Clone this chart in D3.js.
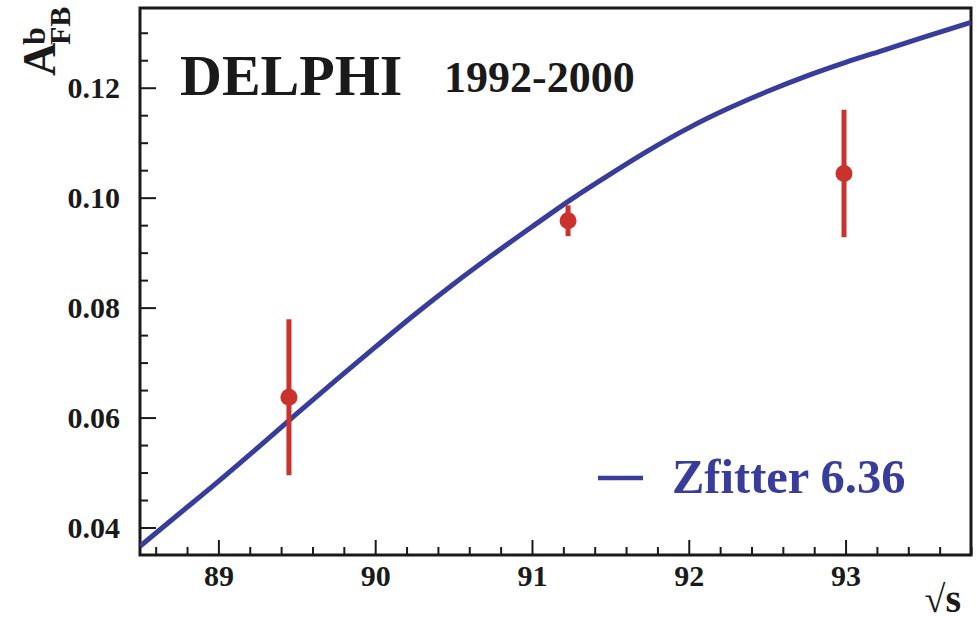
<!DOCTYPE html>
<html>
<head>
<meta charset="utf-8">
<script src="https://cdn.jsdelivr.net/npm/d3@7.9.0/dist/d3.min.js"></script>
<style>
  body { margin: 0; background: #fff; }
  svg { display: block; }
  svg text { font-family: "Liberation Serif", "Times New Roman", Times, serif; }
</style>
</head>
<body>
<svg id="chart" width="977" height="621"></svg>
<script>
// measured points: sqrt(s) in GeV, A_FB^b and its error
const energies = [89.45, 91.23, 92.99];
const asym = [0.0637, 0.0958, 0.1044];
const errors = [0.0142, 0.0028, 0.0116];

// Zfitter 6.36 prediction
const curveE = [88.5, 88.75, 89.0, 89.25, 89.5, 89.75, 90.0, 90.25, 90.5, 90.75, 91.0,
  91.25, 91.5, 91.75, 92.0, 92.25, 92.5, 92.75, 93.0, 93.25, 93.5, 93.8];
const curveA = [0.0366, 0.0425, 0.0484, 0.0545, 0.0607, 0.0668, 0.0728, 0.0787, 0.0843, 0.0896, 0.0947,
  0.0997, 0.1043, 0.1087, 0.1127, 0.1162, 0.1193, 0.1221, 0.1246, 0.1269, 0.1292, 0.1319];

const xTicks = [89, 90, 91, 92, 93];
const yTicks = [0.04, 0.06, 0.08, 0.10, 0.12];

const margin = { top: 8, right: 6, bottom: 66, left: 140 };
const width = 977, height = 621;
const ink = "#1a1a1a";

const svg = d3.select("#chart");

const x = d3.scaleLinear().domain([88.5, 93.8]).range([margin.left, width - margin.right]);
const y = d3.scaleLinear().domain([0.035, 0.1345]).range([height - margin.bottom, margin.top]);

const xMinor = d3.range(88.6, 93.8, 0.2).filter(v => Math.abs(v - Math.round(v)) > 0.01);
const yMinor = d3.range(0.04, 0.134, 0.005).filter(v => Math.abs(v * 50 - Math.round(v * 50)) > 0.01);

// frame
svg.append("rect")
  .attr("x", margin.left)
  .attr("y", margin.top)
  .attr("width", width - margin.right - margin.left)
  .attr("height", height - margin.bottom - margin.top)
  .attr("fill", "none")
  .attr("stroke", ink)
  .attr("stroke-width", 3);

// x axis: ticks point inward
const xAxis = svg.append("g")
  .attr("transform", `translate(0,${height - margin.bottom})`)
  .call(d3.axisBottom(x).tickValues(xTicks).tickFormat(d3.format("d")).tickSizeInner(-15).tickSizeOuter(0).tickPadding(22));
xAxis.attr("font-family", null);
xAxis.select(".domain").remove();
xAxis.selectAll(".tick line").attr("stroke", ink).attr("stroke-width", 2);
xAxis.selectAll(".tick text")
  .attr("font-size", 30).attr("font-weight", "bold").attr("fill", ink)
  .attr("dy", "0.3em");

const xAxisMinor = svg.append("g")
  .attr("transform", `translate(0,${height - margin.bottom})`)
  .call(d3.axisBottom(x).tickValues(xMinor).tickFormat("").tickSizeInner(-8).tickSizeOuter(0));
xAxisMinor.select(".domain").remove();
xAxisMinor.selectAll(".tick line").attr("stroke", ink).attr("stroke-width", 2);

// y axis
const yAxis = svg.append("g")
  .attr("transform", `translate(${margin.left},0)`)
  .call(d3.axisLeft(y).tickValues(yTicks).tickFormat(d3.format(".2f")).tickSizeInner(-16).tickSizeOuter(0).tickPadding(20));
yAxis.attr("font-family", null);
yAxis.select(".domain").remove();
yAxis.selectAll(".tick line").attr("stroke", ink).attr("stroke-width", 2);
yAxis.selectAll(".tick text")
  .attr("font-size", 30).attr("font-weight", "bold").attr("fill", ink);

const yAxisMinor = svg.append("g")
  .attr("transform", `translate(${margin.left},0)`)
  .call(d3.axisLeft(y).tickValues(yMinor).tickFormat("").tickSizeInner(-8).tickSizeOuter(0));
yAxisMinor.select(".domain").remove();
yAxisMinor.selectAll(".tick line").attr("stroke", ink).attr("stroke-width", 2);

// clip for the curve
svg.append("clipPath").attr("id", "plot-clip")
  .append("rect")
  .attr("x", margin.left).attr("y", margin.top)
  .attr("width", width - margin.right - margin.left)
  .attr("height", height - margin.bottom - margin.top);

const curveData = curveE.map((e, i) => ({ e: e, a: curveA[i] }));
const line = d3.line().x(d => x(d.e)).y(d => y(d.a)).curve(d3.curveMonotoneX);

svg.append("path")
  .datum(curveData)
  .attr("clip-path", "url(#plot-clip)")
  .attr("d", line)
  .attr("fill", "none")
  .attr("stroke", "#383d9c")
  .attr("stroke-width", 5);

// data points with error bars
const points = energies.map((e, i) => ({ e: e, a: asym[i], err: errors[i] }));
const red = "#c9322d";

svg.selectAll(".errbar")
  .data(points)
  .join("line")
  .attr("class", "errbar")
  .attr("x1", d => x(d.e)).attr("x2", d => x(d.e))
  .attr("y1", d => y(d.a - d.err)).attr("y2", d => y(d.a + d.err))
  .attr("stroke", red)
  .attr("stroke-width", 5);

svg.selectAll(".pt")
  .data(points)
  .join("circle")
  .attr("class", "pt")
  .attr("cx", d => x(d.e)).attr("cy", d => y(d.a))
  .attr("r", 8.5)
  .attr("fill", red);

// labels
svg.append("text")
  .attr("x", 180).attr("y", 95)
  .attr("font-size", 58).attr("font-weight", "bold").attr("fill", ink)
  .text("DELPHI");

svg.append("text")
  .attr("x", 444).attr("y", 92)
  .attr("font-size", 44).attr("font-weight", "bold").attr("fill", ink)
  .text("1992-2000");

// legend
svg.append("line")
  .attr("x1", 598).attr("x2", 643)
  .attr("y1", 478).attr("y2", 478)
  .attr("stroke", "#383d9c").attr("stroke-width", 4.5);

svg.append("text")
  .attr("x", 672).attr("y", 493)
  .attr("font-size", 48.5).attr("font-weight", "bold").attr("fill", "#383d9c")
  .text("Zfitter 6.36");

// x axis title
const xt = svg.append("text")
  .attr("x", 961).attr("y", 612)
  .attr("text-anchor", "end")
  .attr("fill", ink);
xt.append("tspan").attr("font-size", 38).text("√");
xt.append("tspan").attr("font-size", 40).attr("font-weight", "bold").text("s");

// y axis title: A with superscript b and subscript FB, rotated
const yt = svg.append("g")
  .attr("transform", "translate(55,76) rotate(-90)")
  .attr("fill", ink)
  .attr("font-weight", "bold");
yt.append("text").attr("x", 0).attr("y", 0).attr("font-size", 46).text("A");
yt.append("text").attr("x", 31).attr("y", -10).attr("font-size", 32).text("b");
yt.append("text").attr("x", 31).attr("y", 15).attr("font-size", 30).text("FB");
</script>
</body>
</html>
